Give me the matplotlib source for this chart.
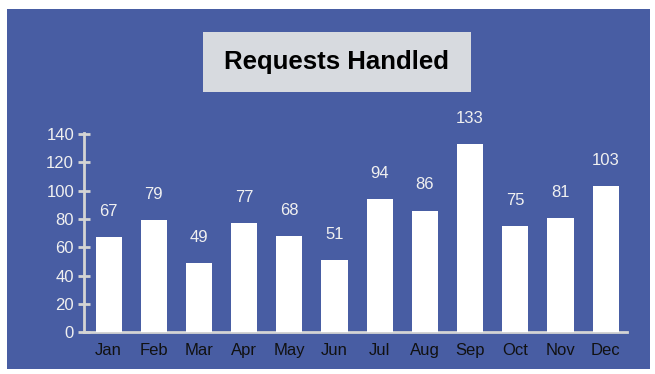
import matplotlib.pyplot as plt
from matplotlib.patches import Rectangle

months = ['Jan', 'Feb', 'Mar', 'Apr', 'May', 'Jun',
          'Jul', 'Aug', 'Sep', 'Oct', 'Nov', 'Dec']
requests = [67, 79, 49, 77, 68, 51, 94, 86, 133, 75, 81, 103]
yticks = [0, 20, 40, 60, 80, 100, 120, 140]

plt.rcParams['font.family'] = ['Liberation Sans', 'DejaVu Sans']

blue = '#485da3'
axis_col = '#d4d4d4'

W, H = 655, 374
fig = plt.figure(figsize=(W / 100, H / 100), dpi=100, facecolor='white')

# blue panel behind everything
fig.patches.append(Rectangle((7 / W, 5 / H), 643 / W, 360 / H, transform=fig.transFigure,
                             facecolor=blue, edgecolor='none', zorder=-2))
# grey title box
fig.patches.append(Rectangle((203 / W, (H - 92) / H), 268 / W, 60 / H,
                             transform=fig.transFigure,
                             facecolor='#d7dadf', edgecolor='none', zorder=-1))
fig.text(337 / W, (H - 62) / H, 'Requests Handled', ha='center', va='center',
         fontsize=18.5, fontweight='bold', color='black')

ax = fig.add_axes([0.128, 0.112, 0.829, 0.533], zorder=1)
ax.set_facecolor('none')

x = range(len(months))
ax.bar(x, requests, width=0.58, color='white', zorder=3)
for xi, v in zip(x, requests):
    ax.annotate(str(v), (xi, v), xytext=(0, 13), textcoords='offset points',
                ha='center', va='bottom', color='#f0f0f0', fontsize=12)

ax.set_xlim(-0.55, 11.47)
ax.set_ylim(0, 141)
ax.set_yticks(yticks)
ax.set_xticks(list(x))
ax.set_xticklabels(months, color='#111111', fontsize=12)
ax.tick_params(axis='x', length=0, pad=8)
ax.tick_params(axis='y', direction='inout', length=8, width=2, color=axis_col,
               labelcolor='#f0f0f0', labelsize=12, pad=3)

for s in ['top', 'right']:
    ax.spines[s].set_visible(False)
for s in ['left', 'bottom']:
    ax.spines[s].set_color(axis_col)
    ax.spines[s].set_linewidth(2)

fig.savefig('out.png', dpi=100, facecolor='white')
